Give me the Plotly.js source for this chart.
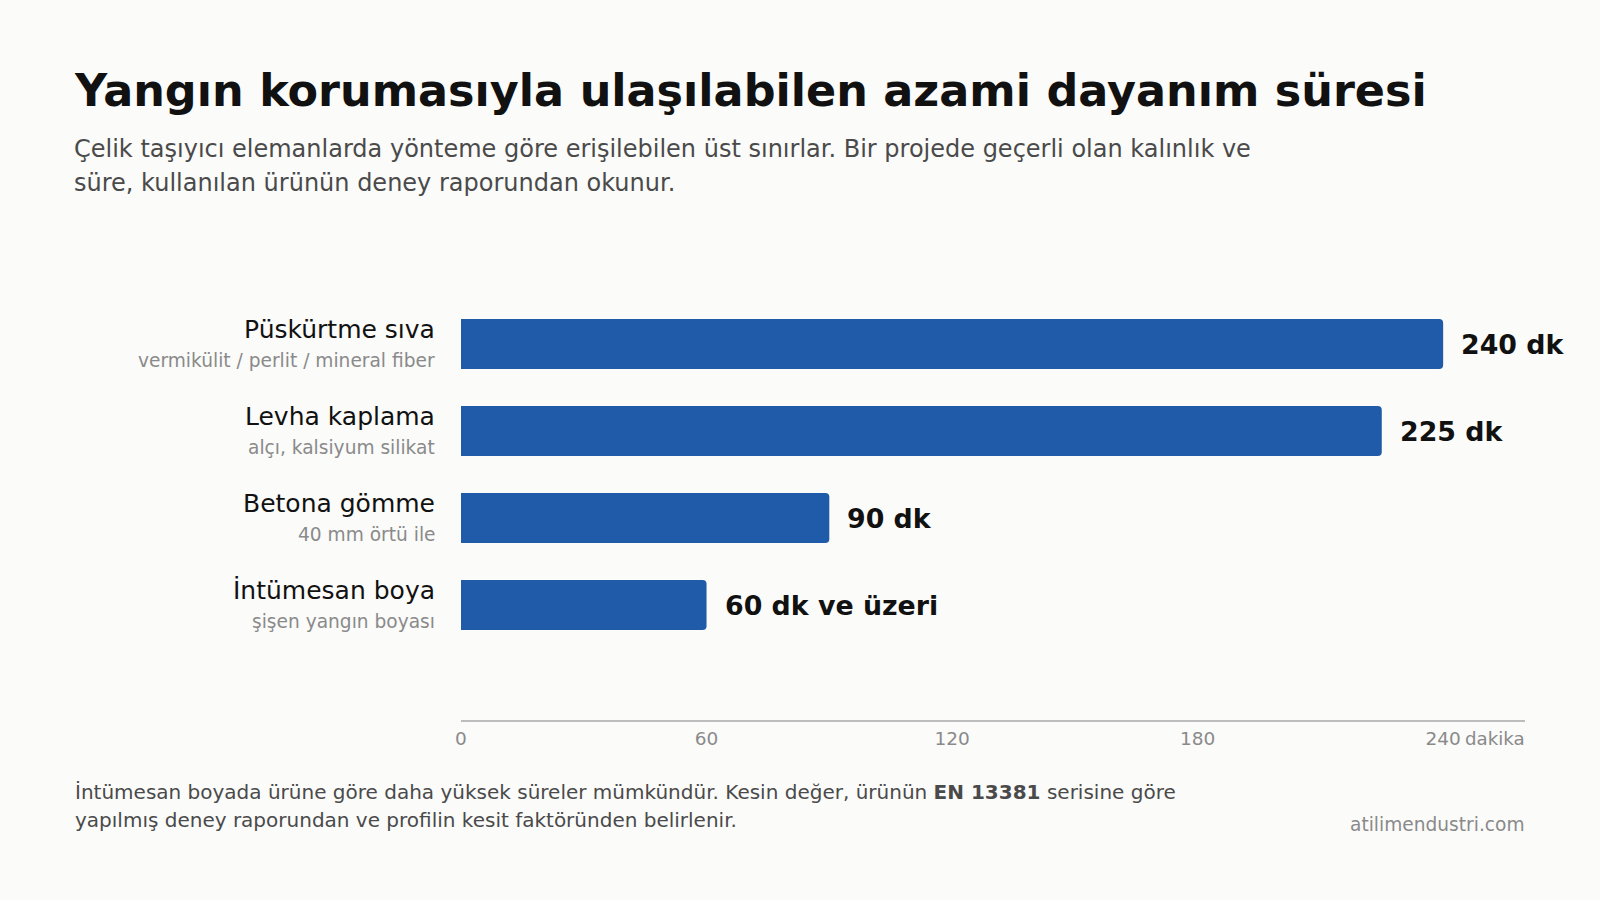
<!DOCTYPE html>
<html>
<head>
<meta charset="utf-8">
<script src="https://cdn.plot.ly/plotly-3.0.1.min.js"></script>
<style>
  html, body { margin: 0; padding: 0; background: #fbfbfa; }
  #chart { width: 1600px; height: 900px; }
</style>
</head>
<body>
<div id="chart"></div>
<script>
// ---- data ----
const categories = ["Püskürtme sıva", "Levha kaplama", "Betona gömme", "İntümesan boya"];
const subLabels = ["vermikülit / perlit / mineral fiber", "alçı, kalsiyum silikat", "40 mm örtü ile", "şişen yangın boyası"];
const durations = [240, 225, 90, 60];
const valueLabels = ["240 dk", "225 dk", "90 dk", "60 dk ve üzeri"];
const tickValues = [0, 60, 120, 180, 240];
const tickLabels = ["0", "60", "120", "180", "240"];
const axisUnit = "dakika";

const titleText = "Yangın korumasıyla ulaşılabilen azami dayanım süresi";
const subtitleLines = [
  "Çelik taşıyıcı elemanlarda yönteme göre erişilebilen üst sınırlar. Bir projede geçerli olan kalınlık ve",
  "süre, kullanılan ürünün deney raporundan okunur."
];
const noteLines = [
  "İntümesan boyada ürüne göre daha yüksek süreler mümkündür. Kesin değer, ürünün <b>EN 13381</b> serisine göre",
  "yapılmış deney raporundan ve profilin kesit faktöründen belirlenir."
];
const sourceText = "atilimendustri.com";

// ---- layout geometry ----
const W = 1600, H = 900;
const ML = 461, MR = 75, MT = 260, MB = 180;
const PW = W - ML - MR, PH = H - MT - MB;
const px2x = px => (px - ML) / PW;
const py2y = py => (H - MB - py) / PH;

const FONT = "DejaVu Sans, Verdana, sans-serif";
const BAR = "#1f5ba8";

const annotations = [];

// subtitle
subtitleLines.forEach((t, i) => {
  annotations.push({
    xref: "paper", yref: "paper", x: px2x(72), y: py2y(149 + i * 34),
    xanchor: "left", yanchor: "middle", showarrow: false, text: t,
    font: { family: FONT, size: 24, color: "#4a4a4a" }
  });
});

// category labels
categories.forEach((c, i) => {
  annotations.push({
    xref: "paper", yref: "y", x: px2x(437), y: c,
    xanchor: "right", yanchor: "middle", yshift: 15, showarrow: false, text: c,
    font: { family: FONT, size: 25, color: "#111111" }
  });
  annotations.push({
    xref: "paper", yref: "y", x: px2x(437), y: c,
    xanchor: "right", yanchor: "middle", yshift: -16, showarrow: false, text: subLabels[i],
    font: { family: FONT, size: 18.6, color: "#8a8a8a" }
  });
  annotations.push({
    xref: "x", yref: "y", x: durations[i], y: c,
    xanchor: "left", yanchor: "middle", xshift: 16, showarrow: false, text: "<b>" + valueLabels[i] + "</b>",
    font: { family: FONT, size: 26.8, color: "#111111" }
  });
});

// axis unit
annotations.push({
  xref: "paper", yref: "paper", x: 1, y: 0,
  xanchor: "right", yanchor: "top", yshift: -6, xshift: 2, showarrow: false, text: axisUnit,
  font: { family: FONT, size: 18.2, color: "#8a8a8a" }
});

// footnote
noteLines.forEach((t, i) => {
  annotations.push({
    xref: "paper", yref: "paper", x: px2x(73), y: py2y(792 + i * 28),
    xanchor: "left", yanchor: "middle", showarrow: false, text: t,
    font: { family: FONT, size: 20, color: "#4a4a4a" }
  });
});

// source
annotations.push({
  xref: "paper", yref: "paper", x: 1, y: py2y(824),
  xanchor: "right", yanchor: "middle", xshift: 2, showarrow: false, text: sourceText,
  font: { family: FONT, size: 18.6, color: "#8a8a8a" }
});

const trace = {
  type: "bar",
  orientation: "h",
  y: categories,
  x: durations,
  marker: { color: BAR, cornerradius: 4 },
  width: 0.575,
  hoverinfo: "x+y",
  cliponaxis: false
};

const layout = {
  width: W, height: H,
  paper_bgcolor: "#fbfbfa",
  plot_bgcolor: "#fbfbfa",
  margin: { l: ML, r: MR, t: MT, b: MB, pad: 0 },
  showlegend: false,
  title: {
    text: "<b>" + titleText + "</b>",
    xref: "container", yref: "container",
    x: 75 / W, xanchor: "left",
    y: 1 - 90 / H, yanchor: "middle",
    font: { family: FONT, size: 44.5, color: "#111111" }
  },
  xaxis: {
    range: [0, 260],
    tickmode: "array", tickvals: tickValues, ticktext: tickLabels,
    showgrid: false, zeroline: false,
    showline: true, linecolor: "#bdbdbd", linewidth: 1.5,
    ticks: "", ticklen: 0, ticklabelstandoff: 1,
    tickfont: { family: FONT, size: 18.5, color: "#8a8a8a" },
    fixedrange: true
  },
  yaxis: {
    type: "category",
    range: [4.322, -0.966],
    showgrid: false, zeroline: false, showline: false,
    showticklabels: false, ticks: "",
    fixedrange: true
  },
  annotations: annotations,
  font: { family: FONT }
};

Plotly.newPlot("chart", [trace], layout, { displayModeBar: false, staticPlot: true });
</script>
</body>
</html>
